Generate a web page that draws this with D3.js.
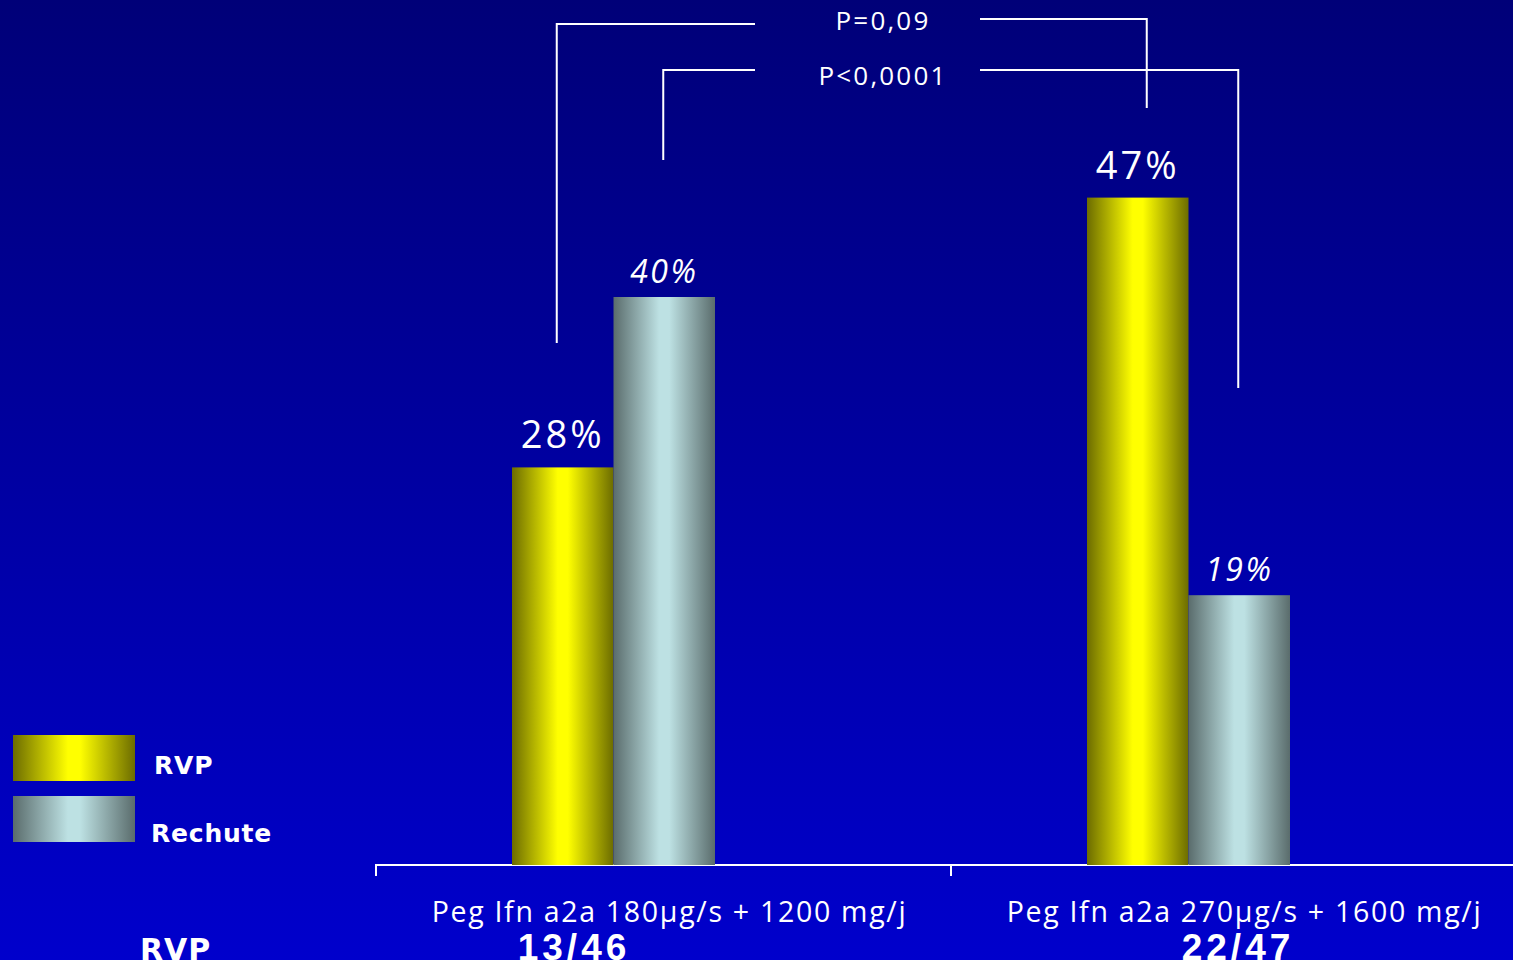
<!DOCTYPE html>
<html><head><meta charset="utf-8">
<script src="https://cdn.jsdelivr.net/npm/d3@7"></script>
<style>html,body{margin:0;padding:0;overflow:hidden;background:#000080}</style>
</head><body>
<svg id="chart" width="1513" height="960"></svg>
<script>
// ---- data ----
const categories = ["Peg Ifn a2a 180µg/s + 1200 mg/j", "Peg Ifn a2a 270µg/s + 1600 mg/j"];
const ratios = ["13/46", "22/47"];
const seriesNames = ["RVP", "Rechute"];
const rvpValues = [28, 47];
const rechuteValues = [40, 19];
const pLabels = ["P=0,09", "P<0,0001"];
const pLinks = [ // [category index, series index] pairs compared
  [[0, 0], [1, 0]],
  [[0, 1], [1, 1]]
];

const W = 1513, H = 960;
const svg = d3.select("#chart");
const defs = svg.append("defs");

// background
const bg = defs.append("linearGradient").attr("id", "bg").attr("x1", 0).attr("y1", 0).attr("x2", 0).attr("y2", 1);
bg.append("stop").attr("offset", "0%").attr("stop-color", "#000078");
bg.append("stop").attr("offset", "100%").attr("stop-color", "#0000CC");
svg.append("rect").attr("width", W).attr("height", H).attr("fill", "url(#bg)");

function barGrad(id, edge, mid) {
  const g = defs.append("linearGradient").attr("id", id).attr("x1", 0).attr("x2", 1).attr("y1", 0).attr("y2", 0);
  g.append("stop").attr("offset", "0%").attr("stop-color", edge);
  g.append("stop").attr("offset", "45%").attr("stop-color", mid);
  g.append("stop").attr("offset", "55%").attr("stop-color", mid);
  g.append("stop").attr("offset", "100%").attr("stop-color", edge);
}
barGrad("gY", "#6C6C00", "#FFFF00");
barGrad("gG", "#5A6C6C", "#BDE1E3");
const fills = ["url(#gY)", "url(#gG)"];

// scales
const baseY = 865;
const y = d3.scaleLinear().domain([0, 50]).range([baseY, baseY - 710]);
const x0 = d3.scaleBand().domain(categories).range([376, 1526]);
const groupStart = 136, groupW = 203;
const x1 = d3.scaleBand().domain(seriesNames).range([0, groupW]);

const data = categories.map((c, i) => ({cat: c, vals: [rvpValues[i], rechuteValues[i]]}));

// axis
const axis = d3.axisBottom(x0).tickSize(11).tickFormat("");
const axG = svg.append("g").attr("transform", `translate(0,${baseY})`).call(axis);
axG.select(".domain").attr("stroke", "#fff").attr("stroke-width", 2).attr("d", `M376,11V0H1526V11`);
axG.selectAll(".tick").remove();
axG.append("line").attr("x1", x0(categories[1])).attr("x2", x0(categories[1])).attr("y1", 0).attr("y2", 11).attr("stroke", "#fff").attr("stroke-width", 2);

// bars
const groups = svg.selectAll(".grp").data(data).join("g")
  .attr("transform", d => `translate(${x0(d.cat) + groupStart},0)`);
groups.selectAll("rect").data(d => d.vals.map((v, j) => ({v, s: seriesNames[j], j}))).join("rect")
  .attr("x", d => x1(d.s)).attr("width", x1.bandwidth())
  .attr("y", d => y(d.v)).attr("height", d => baseY - y(d.v))
  .attr("fill", d => fills[d.j]);
groups.selectAll("text").data(d => d.vals.map((v, j) => ({v, s: seriesNames[j], j}))).join("text")
  .attr("x", d => x1(d.s) + x1.bandwidth() / 2)
  .attr("y", d => y(d.v) - (d.j === 0 ? 19 : 14))
  .attr("text-anchor", "middle").attr("fill", "#fff")
  .attr("font-family", "Open Sans").attr("letter-spacing", d => d.j === 0 ? 3 : 2.5)
  .attr("font-size", d => d.j === 0 ? 38 : 32)
  .attr("font-style", d => d.j === 0 ? "normal" : "italic")
  .text(d => d.v + "%");

// category labels
svg.selectAll(".cl").data(categories).join("text")
  .attr("x", d => x0(d) + x0.bandwidth() / 2 + 6).attr("y", 922)
  .attr("text-anchor", "middle").attr("fill", "#fff")
  .attr("font-family", "Open Sans").attr("font-size", 28.5).attr("letter-spacing", 1.7)
  .text(d => d);
svg.selectAll(".rt").data(ratios).join("text")
  .attr("x", (d, i) => x0(categories[i]) + (i === 0 ? 198 : 287)).attr("y", 960)
  .attr("text-anchor", "middle").attr("fill", "#fff")
  .attr("font-family", "Liberation Sans Narrow, Liberation Sans").attr("font-weight", "bold").attr("font-size", 37)
  .attr("letter-spacing", 4)
  .text(d => d);
svg.append("text").attr("x", 140).attr("y", 960).attr("fill", "#fff")
  .attr("font-family", "DejaVu Sans").attr("font-weight", "bold").attr("font-size", 30).attr("letter-spacing", 1).text("RVP");

// legend
const leg = svg.selectAll(".leg").data(seriesNames).join("g")
  .attr("transform", (d, i) => `translate(13,${735 + i * 61})`);
leg.append("rect").attr("width", 122).attr("height", 46).attr("fill", (d, i) => fills[i]);
leg.append("text").attr("x", (d, i) => i === 0 ? 141 : 138).attr("y", (d, i) => i === 0 ? 39 : 46)
  .attr("fill", "#fff").attr("font-family", "DejaVu Sans").attr("font-weight", "bold").attr("font-size", 25)
  .attr("letter-spacing", 0.8)
  .text(d => d);

// p-value brackets
const barCenter = ([c, s]) => x0(categories[c]) + groupStart + x1(seriesNames[s]) + x1.bandwidth() / 2;
const brackets = [
  {yl: 24, yr: 19, ly: 343, ry: 108, ty: 30, dl: -6, dr: 9},
  {yl: 70, yr: 70, ly: 160, ry: 388, ty: 85, dl: -1, dr: -1}
];
const textGapL = 755, textGapR = 980, textCx = 883;
pLinks.forEach((lk, i) => {
  const b = brackets[i];
  const xl = barCenter(lk[0]) + b.dl, xr = barCenter(lk[1]) + b.dr;
  const path = d3.path();
  path.moveTo(xl, b.ly); path.lineTo(xl, b.yl); path.lineTo(textGapL, b.yl);
  path.moveTo(textGapR, b.yr); path.lineTo(xr, b.yr); path.lineTo(xr, b.ry);
  svg.append("path").attr("d", path.toString()).attr("fill", "none").attr("stroke", "#fff").attr("stroke-width", 2);
  svg.append("text").attr("x", textCx).attr("y", b.ty).attr("text-anchor", "middle").attr("fill", "#fff")
    .attr("font-family", "Open Sans").attr("font-size", 26).attr("letter-spacing", 2.2).text(pLabels[i]);
});
</script>
</body></html>
